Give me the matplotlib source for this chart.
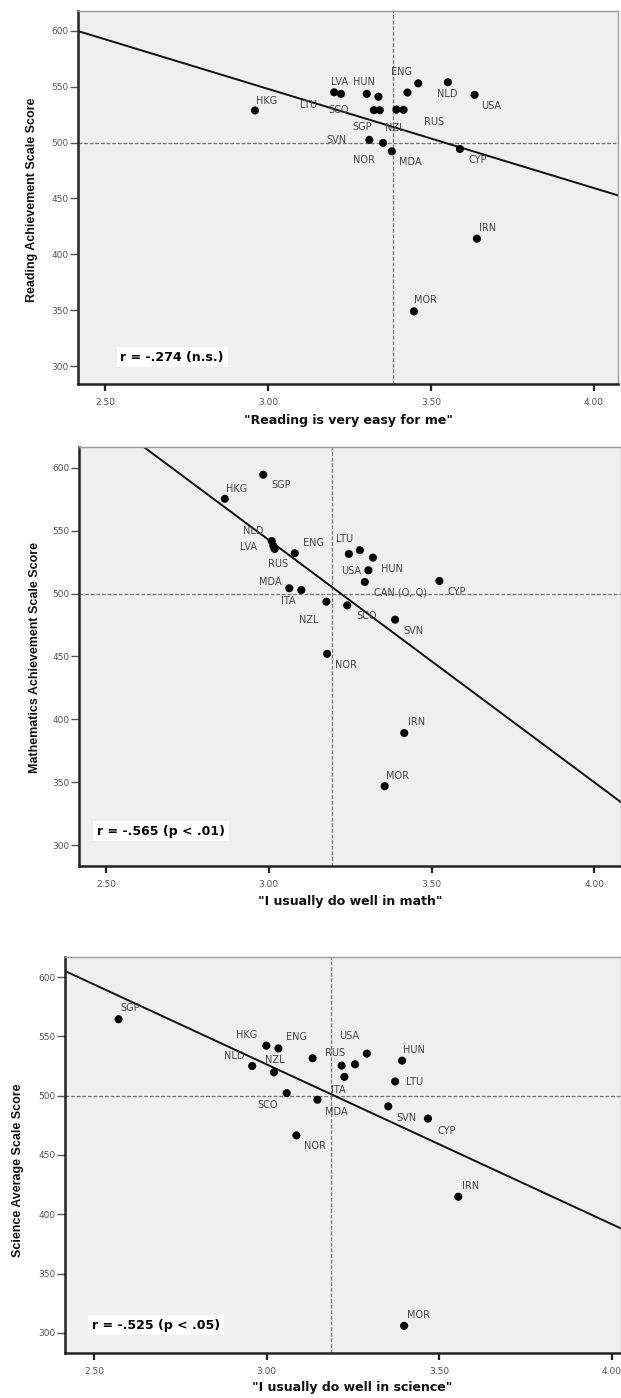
import numpy as np
import matplotlib
matplotlib.use("Agg")
import matplotlib.pyplot as plt

# ---------------- data ----------------
# Panel 1: Reading
read_labels = ["HKG", "LVA", "LTU", "HUN", "", "SCO", "SGP", "ENG", "", "NZL",
               "RUS", "NLD", "USA", "SVN", "NOR", "MDA", "CYP", "IRN", "MOR"]
read_x = [2.960, 3.203, 3.224, 3.303, 3.339, 3.325, 3.343, 3.461, 3.428, 3.394,
          3.416, 3.552, 3.634, 3.311, 3.353, 3.380, 3.589, 3.641, 3.448]
read_y = [528.7, 545.0, 543.6, 543.6, 541.0, 529.0, 529.0, 553.0, 544.8, 529.5,
          529.3, 554.0, 542.7, 502.4, 499.7, 492.2, 494.3, 414.0, 349.0]

# Panel 2: Mathematics
math_labels = ["SGP", "HKG", "NLD", "LVA", "RUS", "ENG", "LTU", "", "HUN", "USA",
               "CAN (O, Q)", "CYP", "MDA", "ITA", "NZL", "SCO", "SVN", "NOR", "IRN", "MOR"]
math_x = [2.983, 2.865, 3.009, 3.014, 3.018, 3.080, 3.246, 3.280, 3.320, 3.306,
          3.295, 3.524, 3.063, 3.100, 3.177, 3.241, 3.388, 3.179, 3.416, 3.356]
math_y = [594.7, 575.5, 541.8, 538.0, 535.6, 532.2, 531.6, 534.6, 528.7, 518.6,
          509.3, 510.1, 504.3, 502.9, 493.6, 490.7, 479.3, 452.1, 389.1, 346.8]

# Panel 3: Science
sci_labels = ["SGP", "HKG", "ENG", "RUS", "", "", "USA", "HUN", "LTU", "NLD",
              "NZL", "SCO", "ITA", "MDA", "SVN", "CYP", "NOR", "IRN", "MOR"]
sci_x = [2.571, 2.999, 3.034, 3.133, 3.217, 3.256, 3.290, 3.392, 3.372, 2.958,
         3.021, 3.058, 3.225, 3.147, 3.352, 3.467, 3.086, 3.555, 3.398]
sci_y = [564.5, 542.2, 539.9, 531.6, 525.4, 526.5, 535.5, 529.6, 512.0, 525.1,
         519.8, 502.2, 515.9, 496.6, 491.0, 480.7, 466.5, 414.8, 305.9]

x_ticks = [2.5, 3.0, 3.5, 4.0]
x_ticklabels = ["2.50", "3.00", "3.50", "4.00"]
y_ticks = [300, 350, 400, 450, 500, 550, 600]
intl_avg = 500

titles_x = ['"Reading is very easy for me"', '"I usually do well in math"',
            '"I usually do well in science"']
titles_y = ["Reading Achievement Scale Score", "Mathematics Achievement Scale Score",
            "Science Average Scale Score"]
r_texts = ["r = -.274 (n.s.)", "r = -.565 (p < .01)", "r = -.525 (p < .05)"]

# ---------------- layout (label offsets in pixels) ----------------
read_off = [(12, 10), (5, 10), (-32, -11), (-3, 12), (0, 0), (-35, 0), (-18, -17),
            (-17, 11), (0, 0), (-2, -18), (30, -12), (-1, -12), (17, -11),
            (-33, 0), (-19, -17), (18, -11), (18, -11), (11, 11), (12, 11)]
math_off = [(18, -10), (12, 10), (-18, 10), (-25, -1), (3, -15), (19, 10), (-4, 15),
            (0, 0), (19, -11), (-17, -1), (36, -11), (17, -11), (-19, 6), (-13, -11),
            (-18, -18), (19, -11), (18, -11), (19, -11), (12, 11), (13, 10)]
sci_off = [(12, 11), (-20, 11), (18, 11), (22, 5), (0, 0), (0, 0), (-18, 18), (12, 11),
           (19, -1), (-18, 10), (1, 12), (-19, -12), (-6, -13), (19, -12), (18, -12),
           (19, -12), (19, -11), (12, 11), (14, 11)]

W, H = 621, 1398
fig = plt.figure(figsize=(W / 100, H / 100), dpi=100)

panels = [
    dict(x=read_x, y=read_y, lab=read_labels, off=read_off,
         rect=(78, 10.7, 618, 384), xlim=(2.417, 4.074), ylim=(284, 618),
         xl=(348, 420), yl=(32, 200), rt=(172, 357)),
    dict(x=math_x, y=math_y, lab=math_labels, off=math_off,
         rect=(79, 447, 621, 866), xlim=(2.417, 4.082), ylim=(283.3, 616.7),
         xl=(350, 902), yl=(35, 657), rt=(161, 831)),
    dict(x=sci_x, y=sci_y, lab=sci_labels, off=sci_off,
         rect=(65, 957, 621, 1353), xlim=(2.416, 4.026), ylim=(283, 617),
         xl=(352, 1388), yl=(18, 1170), rt=(156, 1325)),
]

for i, p in enumerate(panels):
    l, t, r, b = p["rect"]
    ax = fig.add_axes([l / W, 1 - b / H, (r - l) / W, (b - t) / H])
    ax.set_facecolor("#efefef")
    ax.set_xlim(*p["xlim"])
    ax.set_ylim(*p["ylim"])
    xs = np.array(p["x"])
    ys = np.array(p["y"])
    # reference lines
    ax.axhline(intl_avg, color="#777777", lw=0.9, ls=(0, (3, 1.5)), zorder=1)
    ax.axvline(xs.mean(), color="#777777", lw=0.9, ls=(0, (3, 1.5)), zorder=1)
    # regression line
    k, c = np.polyfit(xs, ys, 1)
    xx = np.array(p["xlim"])
    ax.plot(xx, k * xx + c, color="#111111", lw=1.4, zorder=2)
    # points
    ax.scatter(xs, ys, s=34, color="black", zorder=3, edgecolors="none")
    for xi, yi, lab, off in zip(xs, ys, p["lab"], p["off"]):
        if lab:
            ax.annotate(lab, (xi, yi), xytext=off, textcoords="offset pixels",
                        ha="center", va="center", fontsize=7, color="#444444",
                        family="DejaVu Sans", zorder=4)
    # spines
    for s in ["top", "right"]:
        ax.spines[s].set_color("#9a9a9a")
        ax.spines[s].set_linewidth(1.0)
    for s in ["left", "bottom"]:
        ax.spines[s].set_color("#222222")
        ax.spines[s].set_linewidth(1.8)
    ax.set_xticks(x_ticks)
    ax.set_xticklabels(x_ticklabels)
    ax.set_yticks(y_ticks)
    ax.tick_params(axis="x", direction="out", length=5, width=1.6, color="#222222",
                   labelsize=6.5, labelcolor="#555555", pad=5)
    ax.tick_params(axis="y", direction="out", length=5.5, width=1.0, color="#555555",
                   labelsize=6.5, labelcolor="#555555", pad=1.5)
    # r annotation
    rx, ry = p["rt"]
    fig.text(rx / W, 1 - ry / H, r_texts[i], ha="center", va="center",
             fontsize=9, fontweight="bold", color="black", family="DejaVu Sans",
             bbox=dict(boxstyle="square,pad=0.3", fc="white", ec="none"))
    # axis titles
    xlx, xly = p["xl"]
    fig.text(xlx / W, 1 - xly / H, titles_x[i], ha="center", va="center",
             fontsize=9, fontweight="bold", family="DejaVu Sans", color="#111111")
    ylx, yly = p["yl"]
    fig.text(ylx / W, 1 - yly / H, titles_y[i], ha="center", va="center",
             rotation=90, fontsize=9, fontweight="bold", family="Liberation Sans",
             color="#111111")

fig.savefig("out.png", dpi=100, facecolor="white")
